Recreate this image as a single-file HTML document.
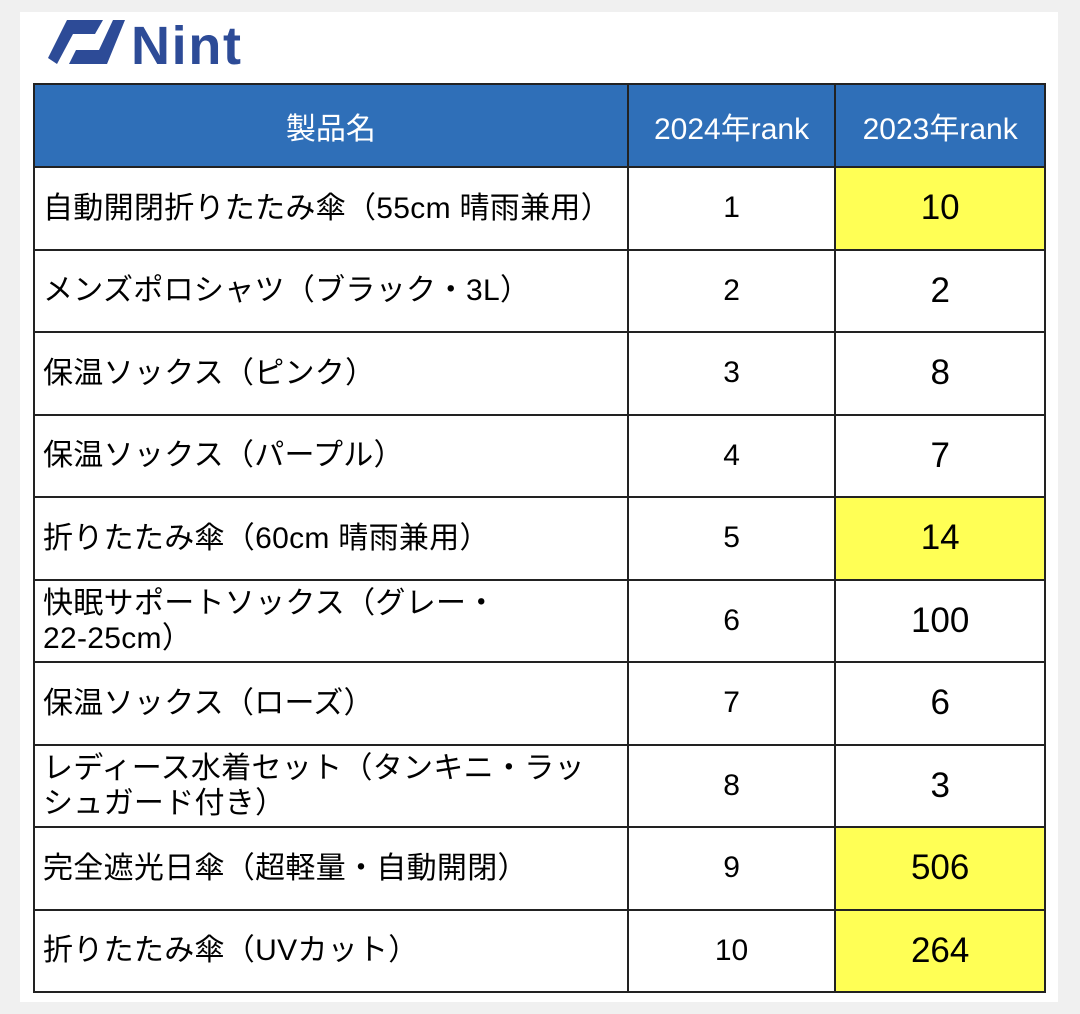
<!DOCTYPE html>
<html><head><meta charset="utf-8"><style>
body{margin:0;width:1080px;height:1014px;background:#f0f0f0;position:relative;font-family:"Liberation Sans","Noto Sans CJK JP",sans-serif;overflow:hidden}
#card{position:absolute;left:20px;top:12px;width:1038px;height:990px;background:#fff}
table{position:absolute;left:33px;top:83px;border-collapse:collapse;width:1013px}
td,th{border:2px solid #222;height:80.5px;padding:0}
th{background:#2f6fb8;color:#fff;font-weight:normal;font-size:30px;height:81px}
td.n{text-align:left;padding-left:8px;font-size:30px;line-height:35px;letter-spacing:0.3px}
td.a{text-align:center;font-size:30px}
td.b{text-align:center;font-size:35px}
td.y{background:#ffff55}
</style></head><body>
<div id="card"></div>
<svg style="position:absolute;left:45px;top:16px" width="210" height="52" viewBox="0 0 210 52">
<polygon points="22,4 58,4 50,18 28,18 12,48 3,42" fill="#2d4b97"/>
<polygon points="68,4 80,4 62,48 24,48 31,34 54,34" fill="#2d4b97"/>
<text x="86" y="48" font-size="54" font-weight="bold" fill="#2d4b97" font-family="Liberation Sans,sans-serif" textLength="110">Nint</text>
</svg>
<table>
<colgroup><col style="width:595px"><col style="width:208px"><col style="width:210px"></colgroup>
<tr><th>製品名</th><th>2024年rank</th><th>2023年rank</th></tr>
<tr><td class="n">自動開閉折りたたみ傘（55cm 晴雨兼用）</td><td class="a">1</td><td class="b y">10</td></tr>
<tr><td class="n">メンズポロシャツ（ブラック・3L）</td><td class="a">2</td><td class="b">2</td></tr>
<tr><td class="n">保温ソックス（ピンク）</td><td class="a">3</td><td class="b">8</td></tr>
<tr><td class="n">保温ソックス（パープル）</td><td class="a">4</td><td class="b">7</td></tr>
<tr><td class="n">折りたたみ傘（60cm 晴雨兼用）</td><td class="a">5</td><td class="b y">14</td></tr>
<tr><td class="n">快眠サポートソックス（グレー・<br>22-25cm）</td><td class="a">6</td><td class="b">100</td></tr>
<tr><td class="n">保温ソックス（ローズ）</td><td class="a">7</td><td class="b">6</td></tr>
<tr><td class="n">レディース水着セット（タンキニ・ラッ<br>シュガード付き）</td><td class="a">8</td><td class="b">3</td></tr>
<tr><td class="n">完全遮光日傘（超軽量・自動開閉）</td><td class="a">9</td><td class="b y">506</td></tr>
<tr><td class="n">折りたたみ傘（UVカット）</td><td class="a">10</td><td class="b y">264</td></tr>
</table>
</body></html>
